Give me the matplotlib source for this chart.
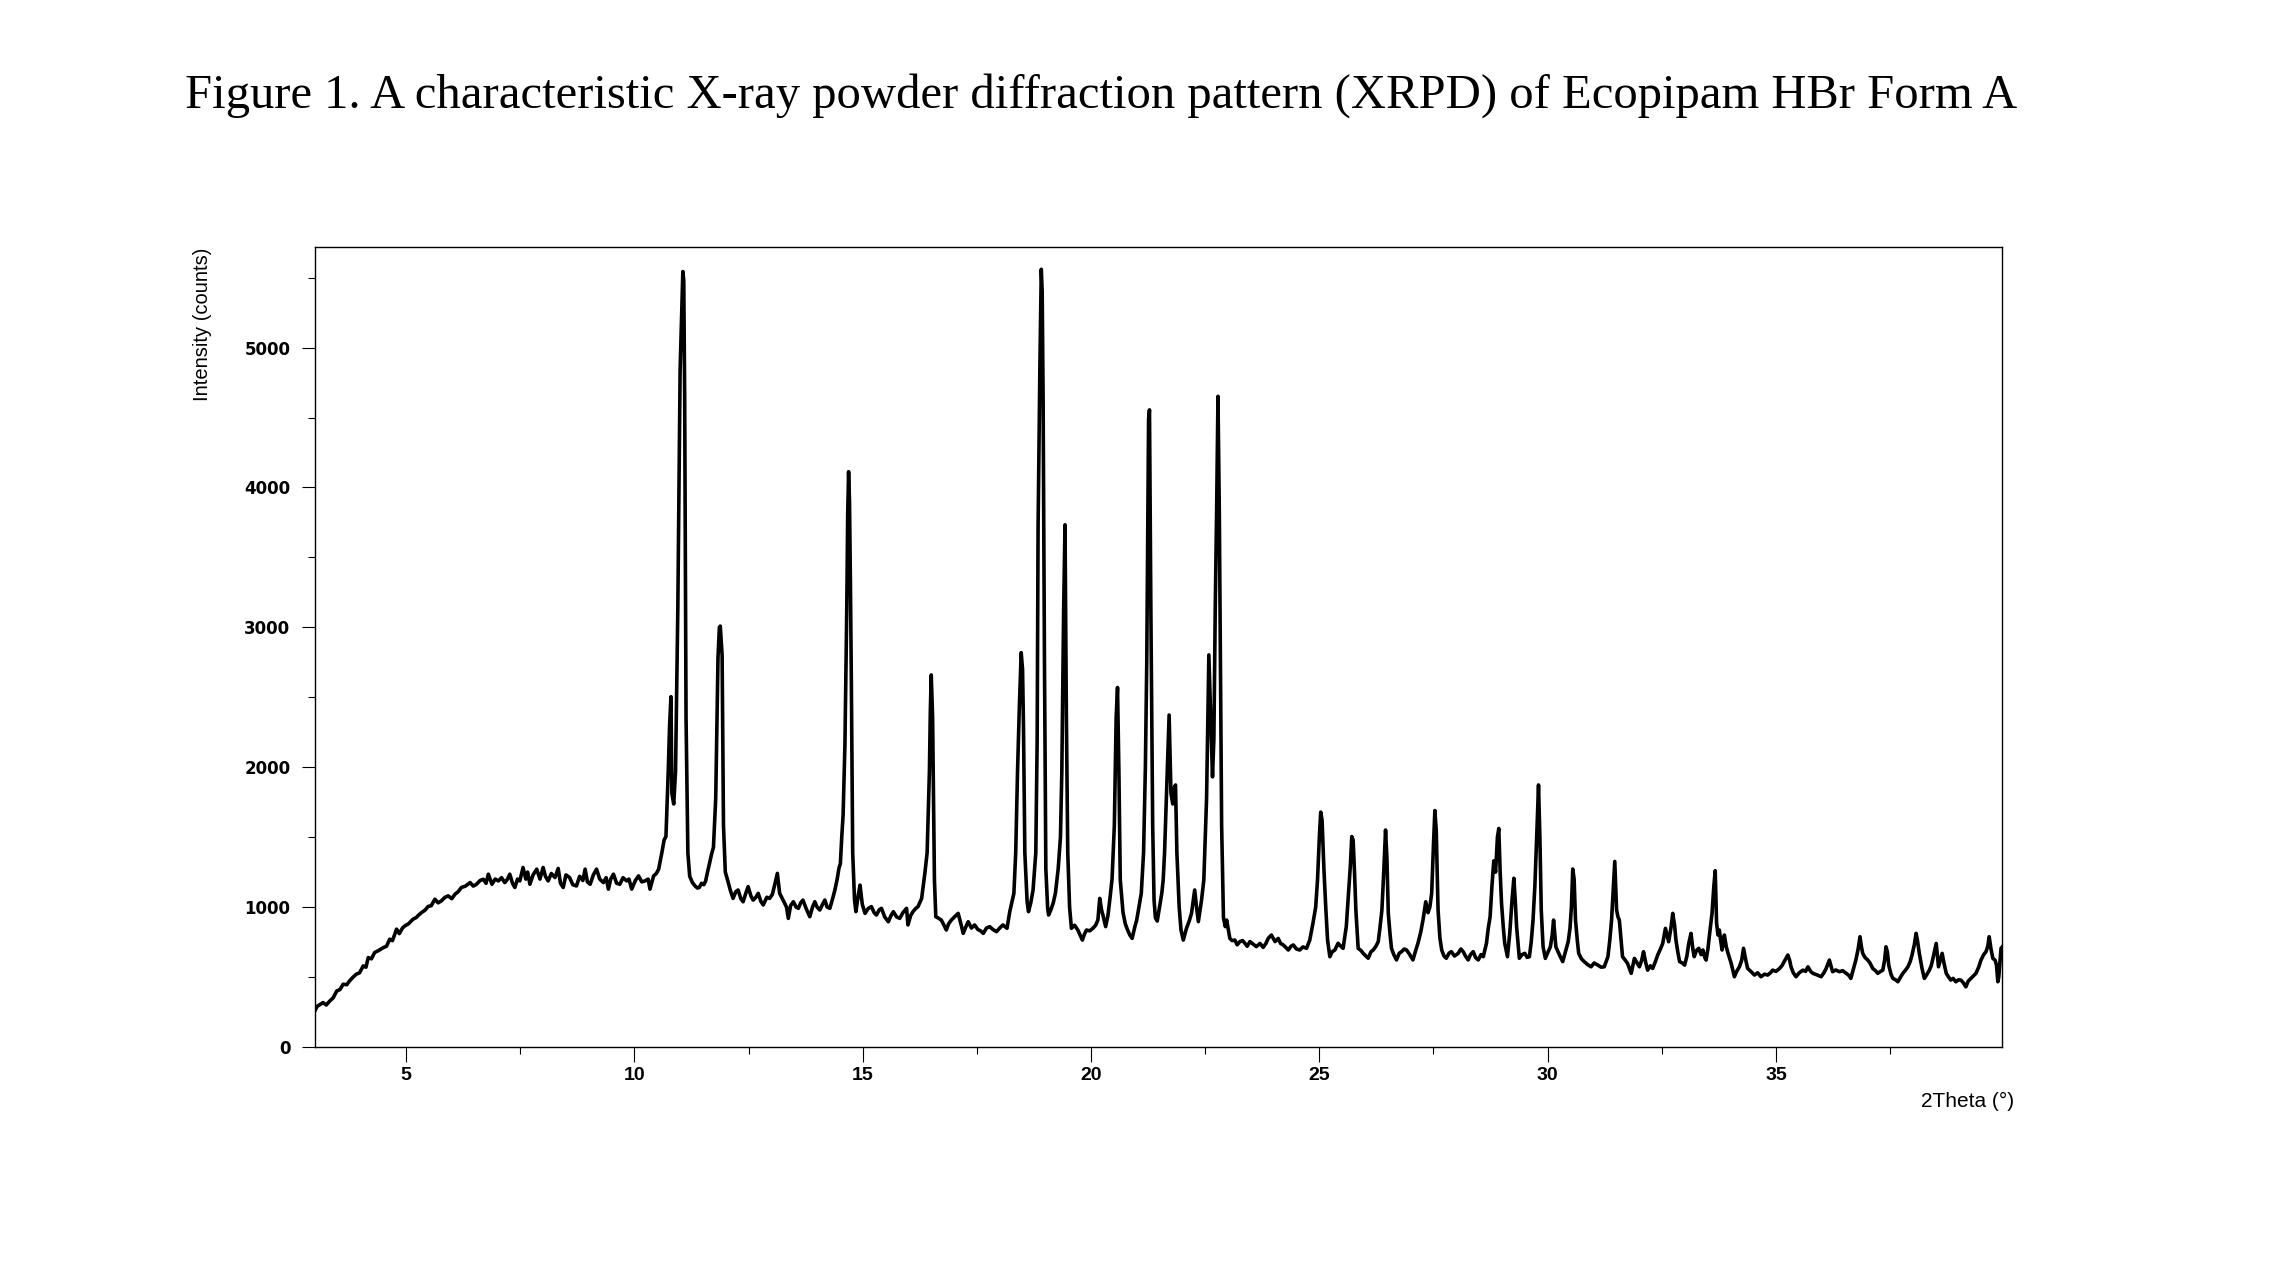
import matplotlib.pyplot as plt
import numpy as np

# (2theta, counts), split by region
seg_rise = [(3.00, 257), (3.05, 290), (3.18, 317), (3.25, 300), (3.33, 329), (3.40, 350), (3.48, 400),
            (3.55, 410), (3.62, 448), (3.70, 445), (3.76, 472), (3.84, 500), (3.91, 520), (3.98, 530),
            (4.06, 579), (4.12, 570), (4.17, 639), (4.24, 630), (4.31, 675), (4.40, 690), (4.50, 710),
            (4.57, 720), (4.64, 770), (4.70, 760), (4.79, 842), (4.85, 810), (4.92, 850), (4.97, 865),
            (5.05, 880), (5.15, 913), (5.22, 925), (5.28, 945), (5.34, 961), (5.42, 980), (5.48, 1004),
            (5.55, 1010), (5.63, 1056), (5.70, 1030), (5.77, 1044), (5.85, 1070), (5.92, 1080), (6.00, 1060),
            (6.07, 1092), (6.14, 1110), (6.21, 1140), (6.30, 1150), (6.40, 1175), (6.47, 1150), (6.54, 1163),
            (6.62, 1190), (6.69, 1199), (6.75, 1170), (6.80, 1235), (6.88, 1163), (6.95, 1200), (7.02, 1187),
            (7.09, 1210), (7.16, 1175), (7.22, 1200), (7.27, 1235), (7.33, 1170), (7.38, 1140), (7.44, 1200),
            (7.49, 1187), (7.56, 1283), (7.62, 1200), (7.66, 1250), (7.71, 1163), (7.78, 1230), (7.86, 1271),
            (7.93, 1200), (8.00, 1283), (8.05, 1220), (8.11, 1187), (8.18, 1240), (8.26, 1211), (8.33, 1276),
            (8.38, 1170), (8.44, 1140), (8.50, 1230), (8.58, 1211), (8.65, 1160), (8.73, 1151), (8.80, 1220),
            (8.87, 1190), (8.92, 1271), (8.97, 1180), (9.03, 1163), (9.10, 1230), (9.17, 1271), (9.24, 1200),
            (9.32, 1175), (9.38, 1210), (9.43, 1128), (9.48, 1200), (9.54, 1235), (9.61, 1170), (9.68, 1163),
            (9.75, 1210), (9.83, 1187), (9.88, 1200), (9.94, 1128), (10.02, 1190), (10.09, 1223), (10.16, 1180),
            (10.23, 1187), (10.30, 1200), (10.34, 1128), (10.42, 1223), (10.48, 1240)]

seg_11 = [(10.53, 1271), (10.60, 1388), (10.65, 1480), (10.69, 1504), (10.74, 1970), (10.77, 2300),
          (10.80, 2504), (10.82, 1814), (10.86, 1737), (10.90, 1970), (10.95, 3133), (11.00, 4838),
          (11.04, 5300), (11.06, 5544), (11.08, 5480), (11.10, 4644), (11.13, 2357), (11.17, 1388),
          (11.21, 1220), (11.27, 1175), (11.33, 1150), (11.38, 1136), (11.42, 1140), (11.47, 1170),
          (11.52, 1160), (11.56, 1187), (11.60, 1250), (11.64, 1306), (11.69, 1380), (11.73, 1427),
          (11.78, 1776), (11.83, 2784), (11.86, 3000), (11.88, 3009), (11.92, 2800), (11.95, 1582),
          (11.99, 1250), (12.05, 1181), (12.10, 1120), (12.16, 1062), (12.22, 1110), (12.27, 1122),
          (12.33, 1060), (12.38, 1038), (12.44, 1100), (12.49, 1146), (12.55, 1080), (12.60, 1050),
          (12.66, 1070), (12.71, 1098), (12.77, 1040), (12.82, 1015), (12.90, 1070), (12.96, 1062),
          (13.02, 1090), (13.07, 1157), (13.13, 1241), (13.18, 1098), (13.24, 1060), (13.29, 1027),
          (13.33, 1000), (13.37, 919), (13.42, 1010), (13.48, 1038), (13.54, 1000), (13.59, 991),
          (13.64, 1030), (13.69, 1050), (13.76, 990), (13.84, 931), (13.90, 1000), (13.95, 1038),
          (14.00, 1000), (14.06, 979), (14.12, 1020), (14.17, 1050), (14.22, 1000), (14.28, 991),
          (14.34, 1060), (14.39, 1122), (14.44, 1200)]

seg_15 = [(14.48, 1280), (14.51, 1310), (14.54, 1500), (14.57, 1659), (14.61, 2163), (14.65, 3133),
          (14.67, 3800), (14.69, 4113), (14.71, 3900), (14.73, 3326), (14.75, 2629), (14.78, 1388),
          (14.82, 1050), (14.85, 967), (14.90, 1080), (14.94, 1157), (14.99, 1020), (15.05, 955),
          (15.12, 990), (15.19, 1003), (15.25, 960), (15.30, 943), (15.36, 980), (15.41, 991),
          (15.48, 930), (15.56, 895), (15.62, 940), (15.67, 967), (15.74, 930), (15.81, 919),
          (15.88, 960), (15.96, 991), (15.99, 872), (16.05, 940), (16.10, 967), (16.16, 990),
          (16.21, 1003), (16.29, 1062), (16.36, 1241), (16.41, 1388), (16.46, 1970), (16.48, 2400),
          (16.50, 2660), (16.53, 2357), (16.57, 1194), (16.60, 931), (16.66, 920), (16.72, 907),
          (16.78, 870), (16.83, 836), (16.88, 880), (16.94, 907), (17.01, 930), (17.09, 955),
          (17.15, 880), (17.20, 812), (17.26, 860), (17.31, 895), (17.38, 850), (17.45, 872),
          (17.52, 840), (17.58, 830), (17.64, 812), (17.71, 850), (17.78, 860), (17.85, 840),
          (17.93, 824), (18.00, 850), (18.07, 872), (18.16, 848), (18.22, 967), (18.27, 1040)]

seg_19 = [(18.31, 1098), (18.35, 1388), (18.39, 1970), (18.43, 2435), (18.47, 2819), (18.50, 2700),
          (18.52, 2300), (18.55, 1388), (18.60, 1039), (18.63, 967), (18.68, 1030), (18.73, 1122),
          (18.76, 1250), (18.79, 1388), (18.82, 2200), (18.84, 3714), (18.88, 4877), (18.91, 5560),
          (18.93, 5400), (18.95, 4644), (18.98, 2745), (19.01, 1272), (19.05, 990), (19.07, 943),
          (19.12, 980), (19.17, 1027), (19.22, 1100), (19.28, 1272), (19.33, 1500), (19.36, 1970),
          (19.40, 3133), (19.43, 3733), (19.46, 2357), (19.49, 1388), (19.53, 1000), (19.57, 848),
          (19.64, 870), (19.71, 836), (19.76, 800), (19.81, 764), (19.86, 810), (19.90, 836),
          (19.97, 830), (20.04, 848), (20.10, 870), (20.15, 907), (20.19, 1062), (20.23, 980),
          (20.26, 943), (20.32, 860), (20.37, 940), (20.41, 1050), (20.46, 1200), (20.51, 1582),
          (20.55, 2357), (20.58, 2570), (20.61, 1970), (20.64, 1194), (20.70, 962), (20.75, 880),
          (20.80, 836), (20.85, 800), (20.90, 776), (20.96, 860), (21.00, 907), (21.05, 1003),
          (21.10, 1098), (21.15, 1388), (21.19, 2000), (21.22, 2745), (21.26, 4490), (21.28, 4555),
          (21.31, 3133), (21.35, 1582), (21.38, 1050), (21.41, 923), (21.45, 900), (21.50, 1000),
          (21.55, 1100), (21.58, 1194), (21.61, 1388), (21.67, 1970), (21.71, 2373), (21.75, 1814),
          (21.79, 1737), (21.82, 1853), (21.85, 1873), (21.88, 1388), (21.93, 1000), (21.97, 836),
          (22.02, 764), (22.09, 848), (22.15, 900), (22.20, 955), (22.27, 1122), (22.31, 1000),
          (22.35, 896), (22.42, 1050), (22.47, 1194), (22.53, 1776), (22.58, 2803), (22.62, 2357),
          (22.66, 1931), (22.69, 2200), (22.72, 3133), (22.75, 3830), (22.78, 4652), (22.81, 3800),
          (22.83, 2939), (22.86, 1582), (22.90, 923), (22.94, 860), (22.97, 907)]

seg_26 = [(23.04, 776), (23.09, 760), (23.15, 764), (23.20, 730), (23.26, 753), (23.32, 760), (23.37, 741),
          (23.42, 720), (23.48, 753), (23.55, 735), (23.62, 717), (23.70, 740), (23.77, 712), (23.83, 740),
          (23.88, 776), (23.95, 800), (24.03, 753), (24.10, 776), (24.15, 740), (24.21, 729), (24.27, 710),
          (24.32, 693), (24.38, 720), (24.43, 729), (24.50, 700), (24.57, 693), (24.64, 715), (24.72, 705),
          (24.79, 764), (24.86, 884), (24.92, 1000), (24.96, 1194), (25.00, 1500), (25.03, 1679),
          (25.06, 1620), (25.10, 1272), (25.14, 1000), (25.18, 764), (25.23, 645), (25.28, 680),
          (25.34, 693), (25.41, 741), (25.47, 720), (25.52, 705), (25.59, 860), (25.64, 1098),
          (25.68, 1300), (25.71, 1504), (25.74, 1480), (25.77, 1250), (25.80, 979), (25.85, 705),
          (25.91, 690), (25.96, 669), (26.02, 650), (26.07, 634), (26.13, 680), (26.18, 693),
          (26.24, 720), (26.29, 753), (26.33, 860), (26.37, 979), (26.41, 1250), (26.45, 1551),
          (26.48, 1350), (26.51, 955), (26.55, 800), (26.58, 705), (26.63, 660), (26.69, 622),
          (26.75, 670), (26.80, 681), (26.86, 700), (26.91, 693), (26.98, 660), (27.05, 622),
          (27.11, 690), (27.16, 741), (27.22, 820), (27.27, 907), (27.33, 1038), (27.38, 960),
          (27.42, 1000), (27.46, 1098), (27.50, 1450), (27.53, 1690), (27.56, 1550), (27.60, 979),
          (27.64, 780), (27.68, 693), (27.73, 650), (27.78, 634), (27.84, 670), (27.89, 681),
          (27.96, 650), (28.04, 669), (28.10, 700), (28.15, 681), (28.20, 650), (28.26, 622),
          (28.31, 660), (28.37, 681), (28.42, 640), (28.48, 622), (28.54, 660), (28.59, 645),
          (28.66, 741), (28.70, 850), (28.74, 931), (28.78, 1150), (28.82, 1330), (28.86, 1250),
          (28.90, 1500), (28.93, 1562), (28.96, 1250), (28.99, 1027), (29.03, 850), (29.06, 741),
          (29.12, 645), (29.17, 812), (29.22, 1050), (29.26, 1206), (29.29, 1050), (29.32, 860),
          (29.38, 634), (29.44, 660), (29.50, 669), (29.55, 640), (29.60, 645), (29.64, 750),
          (29.68, 907), (29.72, 1150), (29.76, 1500), (29.80, 1873), (29.83, 1500), (29.86, 979),
          (29.90, 716), (29.95, 633)]

seg_35 = [(30.01, 680), (30.06, 716), (30.10, 800), (30.13, 907), (30.18, 716), (30.26, 657), (30.33, 610),
          (30.40, 693), (30.45, 752), (30.49, 850), (30.52, 1000), (30.55, 1272), (30.58, 1200),
          (30.61, 907), (30.65, 760), (30.68, 669), (30.74, 630), (30.80, 610), (30.87, 590), (30.95, 573),
          (31.02, 600), (31.10, 585), (31.17, 570), (31.24, 573), (31.32, 645), (31.36, 760), (31.40, 907),
          (31.44, 1150), (31.47, 1326), (31.51, 979), (31.54, 930), (31.57, 907), (31.61, 760),
          (31.64, 645), (31.70, 620), (31.75, 597), (31.83, 526), (31.90, 633), (31.96, 600), (32.01, 573),
          (32.06, 620), (32.10, 681), (32.15, 600), (32.19, 549), (32.25, 580), (32.30, 561), (32.36, 610),
          (32.41, 657), (32.47, 700), (32.52, 740), (32.58, 848), (32.65, 752), (32.70, 850), (32.74, 955),
          (32.78, 870), (32.81, 764), (32.85, 680), (32.89, 610), (32.95, 600), (33.00, 585), (33.05, 650),
          (33.09, 740), (33.14, 812), (33.18, 700), (33.21, 645), (33.26, 690), (33.31, 705), (33.36, 660),
          (33.40, 693), (33.44, 640), (33.47, 621), (33.51, 700), (33.54, 788), (33.60, 955),
          (33.64, 1150), (33.67, 1260), (33.70, 884), (33.73, 800), (33.76, 836), (33.79, 760),
          (33.82, 693), (33.87, 800), (33.91, 720), (33.94, 681), (34.02, 597), (34.09, 502), (34.14, 540),
          (34.20, 573), (34.25, 620), (34.29, 705), (34.34, 620), (34.38, 561), (34.45, 540), (34.53, 514),
          (34.60, 530), (34.67, 502), (34.75, 520), (34.82, 514), (34.88, 530), (34.93, 549), (35.00, 540),
          (35.08, 561), (35.13, 580), (35.18, 609), (35.26, 657), (35.30, 620), (35.33, 573), (35.38, 530),
          (35.44, 502), (35.51, 530), (35.59, 549), (35.65, 540), (35.70, 573), (35.76, 540), (35.81, 526),
          (35.90, 515), (35.99, 502), (36.05, 530), (36.10, 561), (36.17, 621), (36.24, 538), (36.31, 550),
          (36.39, 538), (36.46, 545), (36.54, 526), (36.60, 510), (36.64, 490), (36.70, 560), (36.75, 621),
          (36.80, 700), (36.84, 788), (36.87, 720), (36.90, 669), (36.95, 640), (37.01, 621), (37.06, 600),
          (37.12, 561), (37.18, 545), (37.23, 526), (37.29, 540), (37.34, 549), (37.38, 620), (37.41, 716),
          (37.44, 680), (37.47, 585), (37.52, 520), (37.56, 490), (37.62, 480), (37.67, 466), (37.73, 500),
          (37.78, 526), (37.84, 550), (37.89, 573), (37.94, 610), (37.98, 657), (38.03, 730), (38.07, 812),
          (38.10, 760), (38.14, 669), (38.20, 560), (38.25, 490), (38.31, 520), (38.36, 549), (38.40, 580),
          (38.43, 621), (38.47, 680), (38.51, 740), (38.54, 640), (38.56, 573), (38.60, 620), (38.64, 669),
          (38.68, 600), (38.73, 526), (38.78, 500), (38.83, 478), (38.88, 490), (38.94, 466), (39.00, 480),
          (39.05, 478), (39.10, 460), (39.16, 430), (39.21, 470), (39.27, 490), (39.33, 510), (39.38, 526),
          (39.44, 570), (39.49, 621), (39.55, 660), (39.60, 681), (39.64, 720), (39.67, 788), (39.71, 700),
          (39.75, 633), (39.80, 620), (39.83, 585), (39.86, 466), (39.88, 500), (39.93, 705), (39.97, 721)]

x_major = [5, 10, 15, 20, 25, 30, 35]
x_minor = [7.5, 12.5, 17.5, 22.5, 27.5, 32.5, 37.5]
y_major = [0, 1000, 2000, 3000, 4000, 5000]
y_minor = [500, 1500, 2500, 3500, 4500, 5500]

title = 'Figure 1. A characteristic X-ray powder diffraction pattern (XRPD) of Ecopipam HBr Form A'

pattern = seg_rise + seg_11 + seg_15 + seg_19 + seg_26 + seg_35
two_theta = np.array([p[0] for p in pattern])
counts = np.array([p[1] for p in pattern])

fig = plt.figure(figsize=(22.83, 12.67), dpi=100)
ax = fig.add_axes([0.1379, 0.1737, 0.7390, 0.6314])

ax.plot(two_theta, counts, color='black', lw=2.6, solid_joinstyle='round')
ax.set_xlim(3, 39.95)
ax.set_ylim(0, 5720)

ax.set_xticks(x_major)
ax.set_xticks(x_minor, minor=True)
ax.set_yticks(y_major)
ax.set_yticks(y_minor, minor=True)

ax.tick_params(axis='x', which='major', direction='out', length=10.8, width=0.8, pad=4)
ax.tick_params(axis='x', which='minor', direction='out', length=5.3, width=0.8)
ax.tick_params(axis='y', which='major', direction='out', length=9.6, width=0.8, pad=8)
ax.tick_params(axis='y', which='minor', direction='out', length=4.8, width=0.8)

for lab in ax.get_xticklabels():
    lab.set_fontfamily('Liberation Sans')
    lab.set_fontweight('bold')
    lab.set_fontsize(14)
for lab in ax.get_yticklabels():
    lab.set_fontfamily('DejaVu Sans')
    lab.set_fontweight('bold')
    lab.set_fontsize(12)

for sp in ax.spines.values():
    sp.set_linewidth(1.0)

fig.text(203 / 2283, 1 - 248 / 1267, 'Intensity (counts)', rotation=90, ha='center', va='top',
         family='Liberation Sans', fontsize=14.5)
fig.text(1968 / 2283, 1 - 1101 / 1267, '2Theta (°)', ha='center', va='center',
         family='Liberation Sans', fontsize=15)

fig.text(0.4825, 1 - 108 / 1267, title, ha='center', va='baseline',
         family='Liberation Serif', fontsize=35)

fig.savefig('out.png', dpi=100)
